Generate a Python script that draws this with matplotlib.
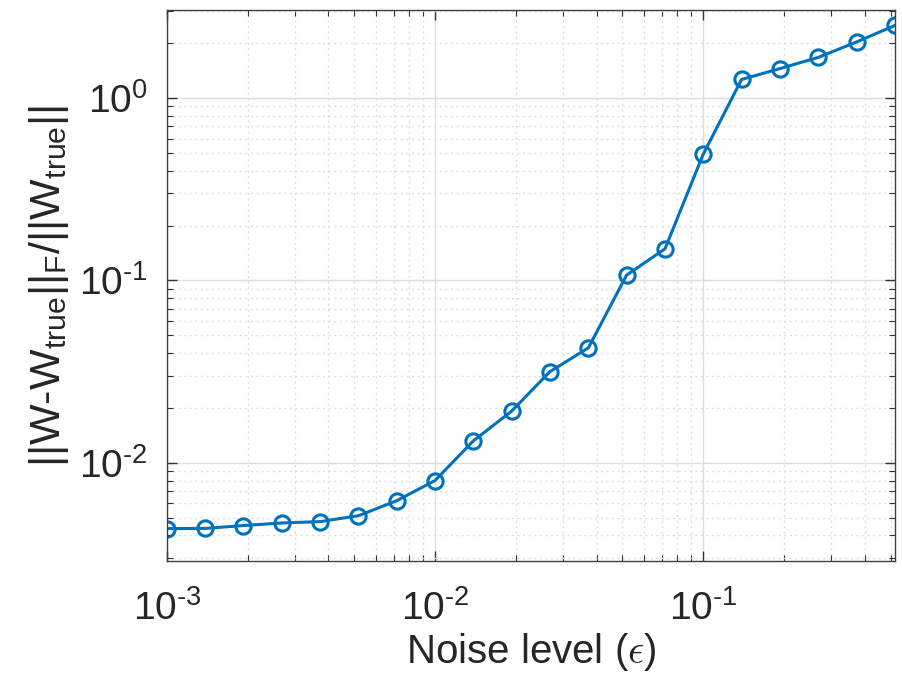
import matplotlib
matplotlib.use("Agg")
import matplotlib.pyplot as plt
import numpy as np
from matplotlib.ticker import FuncFormatter, LogLocator, NullFormatter

plt.rcParams["font.family"] = ["Liberation Sans", "DejaVu Sans"]
plt.rcParams["mathtext.fontset"] = "custom"
plt.rcParams["mathtext.rm"] = "Liberation Sans"
plt.rcParams["mathtext.it"] = "Liberation Sans:italic"
plt.rcParams["axes.unicode_minus"] = False

# noise levels: 20 points, 7 per decade starting at 1e-3
noise_level = [0.001, 0.00139, 0.00193, 0.00268, 0.00373, 0.00518, 0.0072, 0.01,
               0.0139, 0.0193, 0.0268, 0.0373, 0.0518, 0.072, 0.1, 0.139,
               0.193, 0.268, 0.373, 0.518]
rel_error = [0.00436, 0.00437, 0.00453, 0.00468, 0.00476, 0.00513, 0.0062, 0.0080,
             0.0132, 0.0192, 0.0316, 0.0427, 0.107, 0.149, 0.492, 1.265,
             1.45, 1.67, 2.03, 2.5]


def decade_label(v, pos):
    # matlab-style 10^n with a short hyphen for negative powers
    e = int(round(np.log10(v)))
    if e < 0:
        return r"$\mathdefault{10^{\text{-}%d}}$" % (-e)
    return r"$\mathdefault{10^{%d}}$" % e


fig = plt.figure(figsize=(9.02, 6.84), dpi=100)
ax = fig.add_axes([0.185, 0.180, 0.807, 0.805])

ax.plot(noise_level, rel_error, color="#0072BD", linewidth=2.2,
        marker="o", markersize=11, markerfacecolor="none", markeredgewidth=2.2)

ax.set_xscale("log")
ax.set_yscale("log")
ax.set_xlim(1e-3, 0.518)
ax.set_ylim(0.0029, 3.03)

for axis in (ax.xaxis, ax.yaxis):
    axis.set_major_locator(LogLocator(base=10, numticks=10))
    axis.set_major_formatter(FuncFormatter(decade_label))
    axis.set_minor_locator(LogLocator(base=10, subs=np.arange(2, 10), numticks=20))
    axis.set_minor_formatter(NullFormatter())

ax.grid(True, which="major", color="#dedede", linewidth=1, linestyle="-")
ax.grid(True, which="minor", color="#dedede", linewidth=1, linestyle=(0, (1.5, 2.5)))
ax.set_axisbelow(True)

ax.tick_params(which="both", direction="in", top=True, right=True,
               colors="#333333", labelcolor="#262626")
ax.tick_params(which="major", length=7, width=1, labelsize=28)
ax.tick_params(axis="x", which="major", pad=21)
ax.tick_params(axis="y", which="major", pad=14)
ax.tick_params(which="minor", length=4, width=0.8)
for s in ax.spines.values():
    s.set_color("#404040")
    s.set_linewidth(1)

ax.set_xlabel(r"Noise level ($\epsilon$)", fontsize=29, color="#262626",
              math_fontfamily="cm", labelpad=2)
ax.set_ylabel(r"||W-W$_{\mathrm{true}}$||$_{\mathrm{F}}$/||W$_{\mathrm{true}}$||",
              fontsize=31, color="#262626", labelpad=6)

fig.savefig("out.png", dpi=100)
